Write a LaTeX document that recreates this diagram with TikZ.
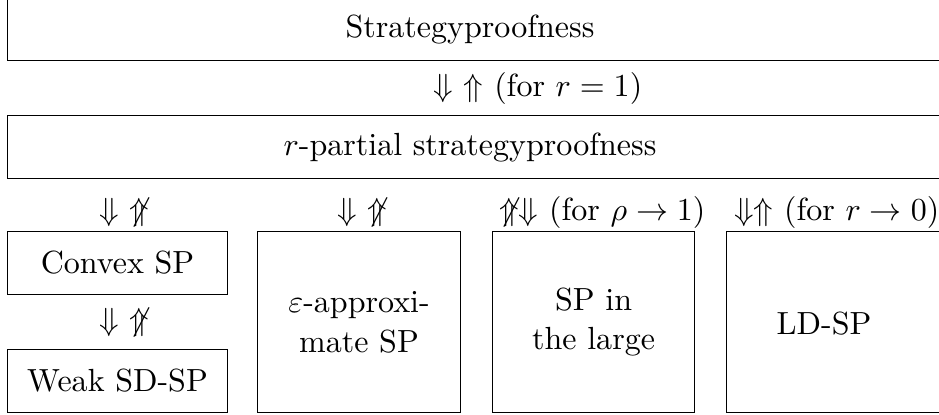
\documentclass[tikz,border=0pt]{standalone}
\begin{document}
\begin{tikzpicture}[x=0.342pt,y=-0.342pt]
\tikzstyle{every node}=[font=\fontsize{10.95}{13.6}\selectfont]
\tikzstyle{propbox}=[draw,rectangle,anchor=north west,inner sep=0pt,align=center]
\useasboundingbox (0,0) rectangle (939,414);
\clip (0,0) rectangle (939,414);
\node[propbox,minimum width=342pt,minimum height=34.2pt](sp) at (7,-40) {};
\node(sptxt) at (470,30) {Strategyproofness};
\node(a0) at (538,88) {$\Downarrow$ $\Uparrow$ (for $r=1$)};
\node[propbox,minimum width=342pt,minimum height=21.5pt](psp) at (7,115) {};
\node(psptxt) at (470,147) {$r$-partial strategyproofness};
\node(a1) at (124,212) {$\Downarrow$ $\not\Uparrow$};
\node(a2) at (362,212) {$\Downarrow$ $\not\Uparrow$};
\node[anchor=west](a3) at (489,212) {$\not\Uparrow\Downarrow$ (for $\rho\to 1$)};
\node[anchor=west](a4) at (724,212) {$\Downarrow\Uparrow$ (for $r\to 0$)};
\node[propbox,minimum width=75.2pt,minimum height=21.5pt](cvx) at (7,231) {Convex SP};
\node(a5) at (124,322) {$\Downarrow$ $\not\Uparrow$};
\node[propbox,minimum width=75.2pt,minimum height=21.5pt](wsd) at (7,349) {Weak SD-SP};
\node[propbox,minimum width=69.4pt,minimum height=61.9pt](eps) at (257,231) {$\varepsilon$-approxi-\\mate SP};
\node[propbox,minimum width=69.1pt,minimum height=61.9pt](spl) at (492,231) {SP in\\the large};
\node[propbox,minimum width=102.6pt,minimum height=61.9pt](ldsp) at (726,231) {};
\node(ldtxt) at (824,324) {LD-SP};
\end{tikzpicture}
\end{document}
